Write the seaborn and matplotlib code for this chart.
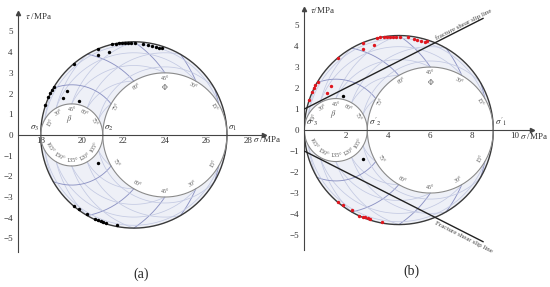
import numpy as np
import pandas as pd
import matplotlib
matplotlib.use('Agg')
import matplotlib.pyplot as plt
from matplotlib.ticker import FixedLocator
import seaborn as sns

# principal stresses (MPa): sigma1, sigma2, sigma3
stress_a = [27, 21, 18]
stress_b = [9, 3, 0]

# panel (a) measured planes
sig_a_up = [18.20, 18.37, 18.45, 18.53, 18.64, 19.62, 20.78, 21.45, 21.62, 21.78, 21.93, 22.08,
            22.22, 22.36, 22.56, 22.96, 23.20, 23.36, 23.57, 23.73, 23.85]
tau_a_up = [1.43, 1.83, 2.02, 2.15, 2.31, 3.43, 4.14, 4.38, 4.41, 4.42, 4.43, 4.44,
            4.45, 4.45, 4.45, 4.41, 4.35, 4.30, 4.26, 4.20, 4.22]
sig_a_low = [19.62, 19.86, 20.25, 20.62, 20.78, 20.90, 21.02, 21.15, 21.70]
tau_a_low = [-3.42, -3.59, -3.83, -4.07, -4.12, -4.15, -4.20, -4.24, -4.36]
sig_a_in = [20.78, 21.30, 19.09, 19.26, 19.86, 20.78]
tau_a_in = [3.87, 4.03, 1.78, 2.12, 1.64, -1.36]

# panel (b) measured planes (red = outside slip lines)
sig_b_red = [0.20, 0.37, 0.45, 0.53, 0.64, 1.62, 2.78, 3.45, 3.62, 3.78, 3.93, 4.08,
             4.22, 4.36, 4.56, 4.96, 5.20, 5.36, 5.57, 5.73, 5.85,
             1.62, 1.86, 2.25, 2.62, 2.78, 2.90, 3.02, 3.15, 3.70,
             2.78, 3.30, 1.09, 1.26]
tau_b_red = [1.43, 1.83, 2.02, 2.15, 2.31, 3.43, 4.14, 4.38, 4.41, 4.42, 4.43, 4.44,
             4.45, 4.45, 4.45, 4.41, 4.35, 4.30, 4.26, 4.20, 4.22,
             -3.42, -3.59, -3.83, -4.07, -4.12, -4.15, -4.20, -4.24, -4.36,
             3.87, 4.03, 1.78, 2.12]
sig_b_blk = [1.86, 2.78]
tau_b_blk = [1.64, -1.36]

# fracture shear slip lines (b)
slip_x = [0.0, 8.52]
slip_up = [1.0, 5.32]
slip_low = [-1.0, -5.32]

angles = [15, 30, 45, 60, 75]
xticks_a = [18, 20, 22, 24, 26, 28]
xticks_b = [2, 4, 6, 8, 10]
yticks = [-5, -4, -3, -2, -1, 0, 1, 2, 3, 4, 5]

sns.set_theme(style='white')
plt.rcParams['font.family'] = ['Liberation Serif', 'DejaVu Serif']
plt.rcParams['mathtext.fontset'] = 'stix'

DARK = '#8d93c4'
LIGHT = '#c3c9e2'
FILL = '#eef0f7'
TXT = '#5a5a5a'


def curve(s, l2, m2, n2):
    s1, s2, s3 = s
    sig = l2 * s1 + m2 * s2 + n2 * s3
    tau = np.sqrt(np.clip(l2 * s1 ** 2 + m2 * s2 ** 2 + n2 * s3 ** 2 - sig ** 2, 0, None))
    return sig, tau


def put_label(ax, cx, r, sx, ty, text, d=0.28):
    th = np.arctan2(ty, sx - cx)
    rot = np.degrees(th) - 90 if ty > 0 else np.degrees(th) + 90
    ax.text(cx + (r - d) * np.cos(th), (r - d) * np.sin(th), text, rotation=rot,
            rotation_mode='anchor', ha='center', va='center', fontsize=4.3, color=TXT)


def draw_mohr(ax, s, primes=False):
    s1, s2, s3 = s
    t = (1 - np.cos(np.linspace(0, np.pi, 300))) / 2
    z = np.zeros_like(t)
    # fill between outer circle and inner circles
    x = np.linspace(s3, s1, 600)
    c0, r0 = (s1 + s3) / 2, (s1 - s3) / 2
    cs, rs = (s2 + s3) / 2, (s2 - s3) / 2
    cr, rr = (s1 + s2) / 2, (s1 - s2) / 2
    yo = np.sqrt(np.clip(r0 ** 2 - (x - c0) ** 2, 0, None))
    yi = np.where(x <= s2, np.sqrt(np.clip(rs ** 2 - (x - cs) ** 2, 0, None)),
                  np.sqrt(np.clip(rr ** 2 - (x - cr) ** 2, 0, None)))
    ax.fill_between(x, yi, yo, color=FILL, lw=0)
    ax.fill_between(x, -yo, -yi, color=FILL, lw=0)

    for a in angles:
        c2 = np.cos(np.radians(a)) ** 2
        for sg in [1, -1]:
            # constant angle to sigma1
            sx, ty = curve(s, z + c2, t * (1 - c2), (1 - t) * (1 - c2))
            ax.plot(sx, sg * ty, color=DARK, lw=0.65)
            # constant angle to sigma3
            sx, ty = curve(s, t * (1 - c2), (1 - t) * (1 - c2), z + c2)
            ax.plot(sx, sg * ty, color=LIGHT, lw=0.55)
            # constant angle to sigma2
            sx, ty = curve(s, t * (1 - c2), z + c2, (1 - t) * (1 - c2))
            ax.plot(sx, sg * ty, color=LIGHT, lw=0.55)
        # labels on sigma3-sigma2 circle
        sx, ty = curve(s, 0, 1 - c2, c2)
        put_label(ax, cs, rs, sx, ty, '%d°' % a)
        put_label(ax, cs, rs, sx, -ty, '%d°' % (180 - a))
        # labels on sigma2-sigma1 circle
        sx, ty = curve(s, c2, 1 - c2, 0)
        put_label(ax, cr, rr, sx, ty, '%d°' % a)
        put_label(ax, cr, rr, sx, -ty, '%d°' % a)

    ax.text(cs - 0.12, rs - 0.72, r'$\beta$', ha='center', va='center', fontsize=6, color=TXT)
    ax.text(cr, rr - 0.7, r'$\Phi$', ha='center', va='center', fontsize=5.5, color=TXT)

    # Mohr circles
    for (l2, m2, n2), col, lw in [((t, z, 1 - t), '#3a3a3a', 1.0),
                                  ((z, t, 1 - t), '#8a8a8a', 0.8),
                                  ((t, 1 - t, z), '#8a8a8a', 0.8)]:
        sx, ty = curve(s, l2, m2, n2)
        ax.plot(sx, ty, color=col, lw=lw)
        ax.plot(sx, -ty, color=col, lw=lw)

    p = "'" if primes else ''
    ax.text(s3 - 0.5 if not primes else s3 + 0.08, 0.1, r"$\sigma%s_3$" % p, fontsize=6.5,
            color='#333333', va='bottom')
    ax.text(s2 + 0.06, 0.1, r"$\sigma%s_2$" % p, fontsize=6.5, color='#333333', va='bottom')
    ax.text(s1 + 0.06, 0.1, r"$\sigma%s_1$" % p, fontsize=6.5, color='#333333', va='bottom')


def style_axes(ax, xlim, ylim, xt):
    ax.set_xlim(xlim)
    ax.set_ylim(ylim)
    ax.spines['right'].set_visible(False)
    ax.spines['top'].set_visible(False)
    ax.spines['bottom'].set_position(('data', 0))
    for sp in ['left', 'bottom']:
        ax.spines[sp].set_color('#444444')
        ax.spines[sp].set_linewidth(0.8)
    ax.xaxis.set_major_locator(FixedLocator(xt))
    ax.xaxis.set_minor_locator(FixedLocator([v + 1 for v in xt[:-1]] + [xt[0] - 1]))
    ax.yaxis.set_major_locator(FixedLocator(yticks))
    ax.tick_params(which='both', direction='in', length=2.5, width=0.6, color='#444444',
                   labelsize=6.5, labelcolor='#333333', pad=1.5)
    ax.tick_params(axis='y', pad=4)
    ax.set_xlabel('')
    ax.set_ylabel('')
    ax.plot(1, 0, '>', color='#444444', ms=3, transform=ax.get_yaxis_transform(), clip_on=False)
    ax.plot(0, 1, '^', color='#444444', ms=3, transform=ax.transAxes, clip_on=False)


fig = plt.figure(figsize=(5.5, 2.87), dpi=100)
ax1 = fig.add_axes([0.0333, 0.123, 0.4467, 0.831])
ax2 = fig.add_axes([0.5533, 0.129, 0.4135, 0.8387])

# (a)
draw_mohr(ax1, stress_a)
pts = pd.DataFrame({'sig': sig_a_up + sig_a_low + sig_a_in, 'tau': tau_a_up + tau_a_low + tau_a_in})
sns.scatterplot(data=pts, x='sig', y='tau', color='black', s=6, linewidth=0, ax=ax1, zorder=5)
style_axes(ax1, (16.92, 28.79), (-5.64, 5.88), xticks_a)
ax1.text(17.24, 5.76, r'$\tau$ /MPa', fontsize=6.5, color='#333333', va='center')
ax1.text(28.27, -0.22, r'$\sigma$ /MPa', fontsize=6.5, color='#333333', va='center', clip_on=False)

# (b)
draw_mohr(ax2, stress_b, primes=True)
sns.scatterplot(x=sig_b_red, y=tau_b_red, color='#e0161e', s=6, linewidth=0, ax=ax2, zorder=5)
sns.scatterplot(x=sig_b_blk, y=tau_b_blk, color='black', s=6, linewidth=0, ax=ax2, zorder=5)
ax2.plot(slip_x, slip_up, color='#222222', lw=1.0, zorder=6)
ax2.plot(slip_x, slip_low, color='#222222', lw=1.0, zorder=6)
k = (slip_up[1] - slip_up[0]) / (slip_x[1] - slip_x[0])
ang = np.degrees(np.arctan(k))
ax2.text(6.3, slip_up[0] + k * 6.3 + 0.05, 'fracture shear slip line', rotation=ang,
         rotation_mode='anchor', ha='left', va='bottom', fontsize=5, color='#444444', clip_on=False)
ax2.text(6.3, slip_low[0] - k * 6.3 - 0.1, 'Fracture shear slip line', rotation=-ang,
         rotation_mode='anchor', ha='left', va='top', fontsize=5, color='#444444', clip_on=False)
style_axes(ax2, (0, 10.83), (-5.71, 5.75), xticks_b)
ax2.text(0.27, 5.71, r'$\tau$/MPa', fontsize=6.5, color='#333333', va='center')
ax2.text(10.27, -0.29, r'$\sigma$ /MPa', fontsize=6.5, color='#333333', va='center', clip_on=False)

fig.text(141 / 550, 1 - 274 / 287, '(a)', ha='center', va='center', fontsize=10)
fig.text(411 / 550, 1 - 271 / 287, '(b)', ha='center', va='center', fontsize=10)

plt.savefig('out.png', dpi=100)
